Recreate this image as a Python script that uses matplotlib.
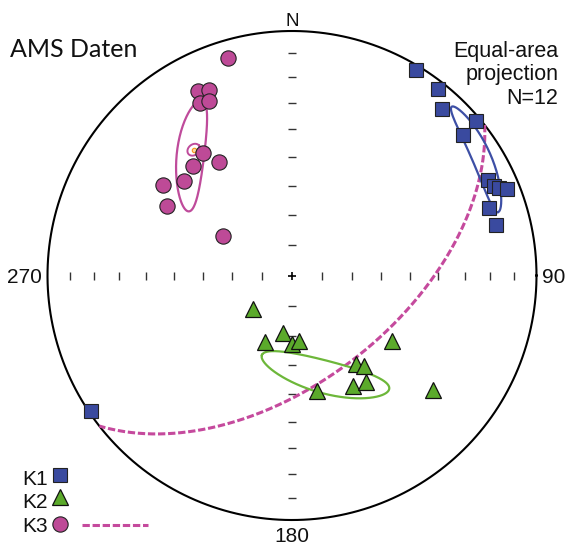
"""AMS-Daten im Schmidt'schen Netz (flächentreu, untere Halbkugel)."""

import numpy as np
import matplotlib

matplotlib.use("Agg")
import matplotlib.pyplot as plt

# Hauptachsen der Suszeptibilität: trend / plunge in Grad
k1_trend = [31, 38, 42, 50, 50.5, 64, 66, 67, 68, 71, 76, 236]
k1_plunge = [2, 3.5, 9, 2, 10.5, 12, 10.5, 9, 6, 16, 15, 1]
k2_trend = [229, 202, 189, 180, 174, 123, 144, 141.5, 151, 145, 168, 129]
k2_plunge = [73, 66, 70.5, 67, 68, 49.5, 53, 51, 47, 46, 50, 26.5]
k3_trend = [343.5, 333, 336, 332, 334.5, 324, 327.5, 318, 311, 305, 299, 300]
k3_plunge = [8, 16.5, 18, 21, 22, 38, 44, 39.5, 41, 36, 41, 63.5]

# Vertrauensellipsen: (trend, plunge, halbwinkel a, halbwinkel b, drehung)
k1_ell = (58, 9.5, 15, 4, 15)
k2_ell = (162, 54, 21.6, 5.5, 36)
k3_ell = (320, 35.6, 18.8, 4.5, -51)
k3_mean = (322, 35)
k3_cone = 2.0

tick_plunges = [10, 20, 30, 40, 50, 60, 70, 80]

BLUE = "#3A4A9F"
GREEN = "#5BAA2B"
MAGENTA = "#BE4A97"


def vec(trend, plunge):
    t = np.radians(trend)
    p = np.radians(plunge)
    return np.array([np.cos(p) * np.cos(t), np.cos(p) * np.sin(t), np.sin(p)])


def proj(trend, plunge):
    t = np.radians(np.asarray(trend, float))
    p = np.radians(np.asarray(plunge, float))
    r = np.sqrt(2) * np.sin((np.pi / 2 - p) / 2)
    return r * np.sin(t), r * np.cos(t)


def proj_vec(v):
    n, e, d = v
    theta = np.arccos(np.clip(d, -1, 1))
    r = np.sqrt(2) * np.sin(theta / 2)
    az = np.arctan2(e, n)
    return r * np.sin(az), r * np.cos(az)


def cone(trend, plunge, a, b, phi, n=300):
    m = vec(trend, plunge)
    dd = vec(trend, plunge + 90)
    t = np.radians(trend)
    s = np.array([-np.sin(t), np.cos(t), 0.0])
    ph = np.radians(phi)
    u = np.cos(ph) * s + np.sin(ph) * dd
    w = -np.sin(ph) * s + np.cos(ph) * dd
    tau = np.linspace(0, 2 * np.pi, n)
    pts = (m[:, None] + np.tan(np.radians(a)) * np.cos(tau) * u[:, None]
           + np.tan(np.radians(b)) * np.sin(tau) * w[:, None])
    pts /= np.linalg.norm(pts, axis=0)
    return proj_vec(pts)


def great_circle(pole_trend, pole_plunge, n=300):
    dipdir = pole_trend + 180
    dip = 90 - pole_plunge
    s = vec(dipdir - 90, 0)
    dv = vec(dipdir, dip)
    a = np.linspace(0, np.pi, n)
    pts = np.cos(a) * s[:, None] + np.sin(a) * dv[:, None]
    return proj_vec(pts)


fig = plt.figure(figsize=(5.66, 5.46), dpi=100)
ax = fig.add_axes([0, 0, 1, 1])
ax.set_xlim(-1.1943, 1.1207)
ax.set_ylim(-1.1063, 1.1268)
ax.axis("off")

# Grundkreis und Skala
tt = np.linspace(0, 2 * np.pi, 500)
ax.plot(np.cos(tt), np.sin(tt), color="black", lw=1.5, zorder=3)
for az, mk in [(90, "|"), (270, "|"), (0, "_"), (180, "_")]:
    x, y = proj([az] * len(tick_plunges), tick_plunges)
    ax.plot(x, y, ls="none", marker=mk, ms=5.5, mew=1.0, color="#333333", zorder=2)
ax.plot(0, 0, marker="+", ms=6, mew=1.2, color="black", zorder=2)

# Ebene senkrecht zu K3 (Foliation)
gx, gy = great_circle(*k3_mean)
ax.plot(gx, gy, color="#C54A9D", lw=2.2, dashes=(2.4, 0.9), zorder=4)

# Vertrauensellipsen
for ell, col in [(k1_ell, "#3D4FA5"), (k2_ell, "#6DB73A"), (k3_ell, "#BF4B9B")]:
    ex, ey = cone(*ell)
    ax.plot(ex, ey, color=col, lw=1.6, zorder=5)
cx, cy = cone(k3_mean[0], k3_mean[1], k3_cone, k3_cone, 0)
ax.plot(cx, cy, color="#BF4B9B", lw=1.4, zorder=5)
mx, my = proj(*k3_mean)
ax.plot(mx, my, marker="o", ms=3.2, mfc="#FDD9A0", mec="#F7941D", mew=0.8, zorder=5)

# Achsen-Daten
x, y = proj(k1_trend, k1_plunge)
ax.plot(x, y, ls="none", marker="s", ms=10.7, mfc=BLUE, mec="#222222", mew=0.8, zorder=6)
x, y = proj(k2_trend, k2_plunge)
ax.plot(x, y, ls="none", marker="^", ms=11, mfc=GREEN, mec="#111111", mew=0.9, zorder=6)
x, y = proj(k3_trend, k3_plunge)
ax.plot(x, y, ls="none", marker="o", ms=11, mfc=MAGENTA, mec="#222222", mew=0.8, zorder=6)

# Beschriftung
lab = dict(family="Liberation Sans", color="#111111")
ax.text(0, 1.0204, "N", ha="center", va="baseline", fontsize=13.5, **lab)
ax.text(0, -1.0888, "180", ha="center", va="baseline", fontsize=15, **lab)
ax.text(-1.0225, -0.0307, "270", ha="right", va="baseline", fontsize=15, **lab)
ax.text(1.0225, -0.0307, "90", ha="left", va="baseline", fontsize=15, **lab)
ax.text(-1.1534, 0.895, "AMS Daten", ha="left", va="baseline", fontsize=18,
        family="Lato", color="#111111")
for yy, s in [(0.895, "Equal-area"), (0.7996, "projection"), (0.7014, "N=12")]:
    ax.text(1.09, yy, s, ha="right", va="baseline", fontsize=15.5, **lab)

# Legende
for yy, s in [(-0.8569, "K1"), (-0.951, "K2"), (-1.0479, "K3")]:
    ax.text(-1.1014, yy, s, ha="left", va="baseline", fontsize=15, **lab)
ax.plot(-0.9489, -0.816, marker="s", ms=10.7, mfc=BLUE, mec="#222222", mew=0.8)
ax.plot(-0.9489, -0.9047, marker="^", ms=11, mfc=GREEN, mec="#111111", mew=0.9)
ax.plot(-0.9489, -1.0164, marker="o", ms=11, mfc=MAGENTA, mec="#222222", mew=0.8)
ax.plot([-0.8601, -0.5902], [-1.0204, -1.0204], color="#C54A9D", lw=2.2, dashes=(2.4, 0.9))

fig.savefig("out.png", dpi=100)
